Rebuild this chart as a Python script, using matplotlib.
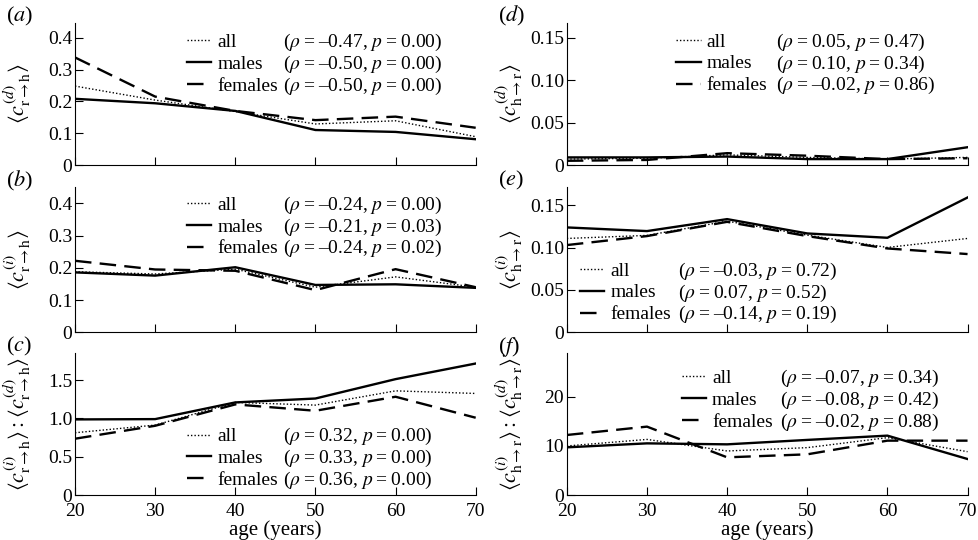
import matplotlib
matplotlib.use('Agg')
import matplotlib.pyplot as plt

plt.rcParams['font.family'] = ['Liberation Serif', 'DejaVu Serif']
plt.rcParams['mathtext.fontset'] = 'stix'

ages = [20, 30, 40, 50, 60, 70]
groups = ['all', 'males', 'females']

# (a) direct r->h
a_all = [0.248, 0.204, 0.168, 0.129, 0.139, 0.089]
a_males = [0.208, 0.194, 0.170, 0.110, 0.104, 0.081]
a_females = [0.338, 0.215, 0.170, 0.141, 0.152, 0.117]
a_stats = ['-0.47, 0.00', '-0.50, 0.00', '-0.50, 0.00']

# (b) indirect r->h
b_all = [0.188, 0.181, 0.196, 0.140, 0.172, 0.140]
b_males = [0.186, 0.176, 0.202, 0.147, 0.149, 0.138]
b_females = [0.222, 0.195, 0.191, 0.131, 0.196, 0.140]
b_stats = ['-0.24, 0.00', '-0.21, 0.03', '-0.24, 0.02']

# (c) ratio r->h
c_all = [0.813, 0.913, 1.209, 1.174, 1.360, 1.326]
c_males = [0.987, 0.991, 1.209, 1.260, 1.513, 1.717]
c_females = [0.735, 0.904, 1.183, 1.100, 1.283, 1.009]
c_stats = ['0.32, 0.00', '0.33, 0.00', '0.36, 0.00']

# (d) direct h->r
d_all = [0.007, 0.008, 0.012, 0.009, 0.007, 0.009]
d_males = [0.009, 0.009, 0.010, 0.007, 0.007, 0.021]
d_females = [0.005, 0.006, 0.014, 0.011, 0.007, 0.008]
d_stats = ['0.05, 0.47', '0.10, 0.34', '-0.02, 0.86']

# (e) indirect h->r
e_all = [0.1107, 0.1143, 0.1311, 0.1146, 0.1001, 0.1107]
e_males = [0.1237, 0.1194, 0.1335, 0.1166, 0.1115, 0.1590]
e_females = [0.1029, 0.1135, 0.1303, 0.1135, 0.0989, 0.0923]
e_stats = ['-0.03, 0.72', '0.07, 0.52', '-0.14, 0.19']

# (f) ratio h->r
f_all = [9.97, 11.3, 8.95, 9.63, 11.66, 8.81]
f_males = [9.69, 10.5, 10.3, 11.2, 12.07, 7.32]
f_females = [12.2, 13.9, 7.66, 8.27, 11.05, 11.05]
f_stats = ['-0.07, 0.34', '-0.08, 0.42', '-0.02, 0.88']

styles = {
    'all': dict(linestyle=(0, (1, 1.5)), linewidth=1.0),
    'males': dict(linestyle='-', linewidth=1.7),
    'females': dict(linestyle=(0, (7, 3.5)), linewidth=1.7),
}

fig = plt.figure(figsize=(9.79, 5.4), dpi=100)

cols_x = [0.0766, 0.579]
col_w = 0.4093
rows = [(0.6944, 0.2635), (0.3846, 0.2685), (0.0833, 0.2624)]

panels = [
    ('a', 0, 0, [a_all, a_males, a_females], a_stats, (0, 0.447), [0, 0.1, 0.2, 0.3, 0.4], ['0', '0.1', '0.2', '0.3', '0.4'],
     r'$\langle c^{(d)}_{\mathrm{r\rightarrow h}}\rangle$', (0.28, 0.925, 0.52)),
    ('b', 1, 0, [b_all, b_males, b_females], b_stats, (0, 0.45), [0, 0.1, 0.2, 0.3, 0.4], ['0', '0.1', '0.2', '0.3', '0.4'],
     r'$\langle c^{(i)}_{\mathrm{r\rightarrow h}}\rangle$', (0.28, 0.94, 0.52)),
    ('c', 2, 0, [c_all, c_males, c_females], c_stats, (0, 1.85), [0, 0.5, 1.0, 1.5], ['0', '0.5', '1.0', '1.5'],
     r'$\langle c^{(i)}_{\mathrm{r\rightarrow h}}\rangle : \langle c^{(d)}_{\mathrm{r\rightarrow h}}\rangle$', (0.28, 0.475, 0.52)),
    ('d', 0, 1, [d_all, d_males, d_females], d_stats, (0, 0.168), [0, 0.05, 0.10, 0.15], ['0', '0.05', '0.10', '0.15'],
     r'$\langle c^{(d)}_{\mathrm{h\rightarrow r}}\rangle$', (0.273, 0.928, 0.522)),
    ('e', 1, 1, [e_all, e_males, e_females], e_stats, (0, 0.171), [0, 0.05, 0.10, 0.15], ['0', '0.05', '0.10', '0.15'],
     r'$\langle c^{(i)}_{\mathrm{h\rightarrow r}}\rangle$', (0.033, 0.485, 0.278)),
    ('f', 2, 1, [f_all, f_males, f_females], f_stats, (0, 28.8), [0, 10, 20], ['0', '10', '20'],
     r'$\langle c^{(i)}_{\mathrm{h\rightarrow r}}\rangle : \langle c^{(d)}_{\mathrm{h\rightarrow r}}\rangle$', (0.287, 0.885, 0.532)),
]

fs = 14
pending = []
for letter, r, c, series, stats, ylim, yt, ytl, ylab, leg in panels:
    b, h = rows[r]
    ax = fig.add_axes([cols_x[c], b, col_w, h])
    handles = []
    for g, vals in zip(groups, series):
        ln, = ax.plot(ages, vals, color='black', **styles[g])
        handles.append(ln)
    ax.set_xlim(20, 70)
    ax.set_ylim(*ylim)
    ax.set_xticks(ages)
    ax.set_yticks(yt)
    ax.set_yticklabels(ytl)
    ax.spines['top'].set_visible(False)
    ax.spines['right'].set_visible(False)
    ax.tick_params(direction='in', length=6, width=0.8, labelsize=fs, pad=2)
    ax.tick_params(axis='x', pad=6)
    if r == 2:
        ax.set_xlabel('age (years)', fontsize=fs + 1, labelpad=0)
    else:
        ax.tick_params(axis='x', labelbottom=False)
    ax.set_ylabel(ylab, fontsize=fs + 2)
    ax.yaxis.set_label_coords(-0.104, 0.5)

    hx, hy, sx = leg
    leg1 = ax.legend(handles, groups, loc='upper left', bbox_to_anchor=(hx, hy),
                     frameon=False, borderpad=0, borderaxespad=0, fontsize=fs,
                     handlelength=1.25, handletextpad=0.3, labelspacing=0.22)

    labels = []
    for s in stats:
        rho, p = s.split(', ')
        rho = rho.replace('-', '\u2013')
        labels.append('($\\rho$\u2009=\u2009' + rho + ', $p$\u2009=\u2009' + p + ')')
    pending.append((ax, leg1, labels, sx))

    fig.text(cols_x[c] - 0.07, b + h + 0.012, '(' + '$\\it{' + letter + '}$' + ')',
             fontsize=fs + 2, va='center', ha='left')

# put the (rho, p) column on the same baselines as the legend rows
fig.canvas.draw()
for ax, leg1, labels, sx in pending:
    for t, lab in zip(leg1.get_texts(), labels):
        xd, yd = t.get_transform().transform((0, 0))
        _, ya = ax.transAxes.inverted().transform((xd, yd))
        ax.text(sx, ya, lab, transform=ax.transAxes, fontsize=fs,
                ha='left', va='baseline')

fig.savefig('out.png', dpi=100)
